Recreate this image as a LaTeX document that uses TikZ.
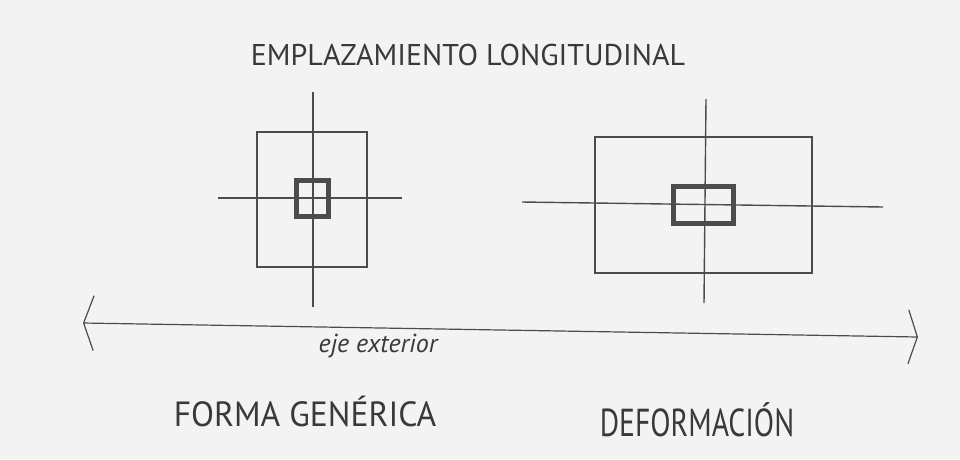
\documentclass[tikz,border=0pt]{standalone}
\usepackage{graphicx}
\usepackage{fontspec}
\setmainfont{PT Sans}
\usetikzlibrary{arrows.meta,positioning}

\definecolor{paper}{HTML}{F3F3F3}
\definecolor{pencil}{HTML}{4C4C4C}

\tikzset{
  stroke/.style={draw=pencil, line width=1.4pt},
  outline/.style={stroke, rectangle, inner sep=0pt},
  core/.style={draw=pencil, line width=4.5pt, rectangle, inner sep=0pt},
  lettering/.style={text=pencil!75!black, inner sep=0pt}
}

\begin{document}
\begin{tikzpicture}[x=1pt, y=-1pt]
  \fill[paper] (0,0) rectangle (960,459);
  \useasboundingbox (0,0) rectangle (960,459);

  \node[lettering, font=\fontsize{30}{30}\selectfont] (title) at (468,55)
    {EMPLAZAMIENTO LONGITUDINAL};

  % forma generica
  \node[outline, minimum width=110pt, minimum height=135pt] (genbox) at (312,199.5) {};
  \node[core, minimum width=32pt, minimum height=36pt] (gencore) at (312.5,198.5) {};
  \coordinate (gentop) at (313,92);
  \coordinate (genbot) at (313,307);
  \coordinate (genleft) at (218,198);
  \coordinate (genright) at (402,198);
  \draw[stroke] (gentop) -- (genbot);
  \draw[stroke] (genleft) -- (genright);

  % deformacion
  \node[outline, minimum width=217pt, minimum height=136pt] (defbox) at (703.5,205) {};
  \node[core, minimum width=60pt, minimum height=37pt] (defcore) at (703.5,205) {};
  \coordinate (deftop) at (706,99);
  \coordinate (defbot) at (704,303);
  \coordinate (defleft) at (522,202);
  \coordinate (defright) at (883,207);
  \draw[stroke] (deftop) -- (defbot);
  \draw[stroke] (defleft) -- (defright);

  % eje exterior
  \coordinate (ejeA) at (83,323);
  \coordinate (ejeB) at (918,337);
  \draw[stroke, line width=1.2pt,
        {Straight Barb[length=10pt, width=55pt]}-{Straight Barb[length=9pt, width=54pt]}]
    (ejeA) -- (ejeB);
  \node[lettering, font=\itshape\fontsize{26}{26}\selectfont] (eje) at (378,346)
    {eje exterior};

  \node[lettering, font=\fontsize{35}{35}\selectfont] (generica) at (305,411)
    {\scalebox{0.96}[1]{FORMA GENÉRICA}};
  \node[lettering, font=\fontsize{39}{39}\selectfont] (deformacion) at (697,420)
    {\scalebox{0.76}[1]{DEFORMACIÓN}};
\end{tikzpicture}
\end{document}
